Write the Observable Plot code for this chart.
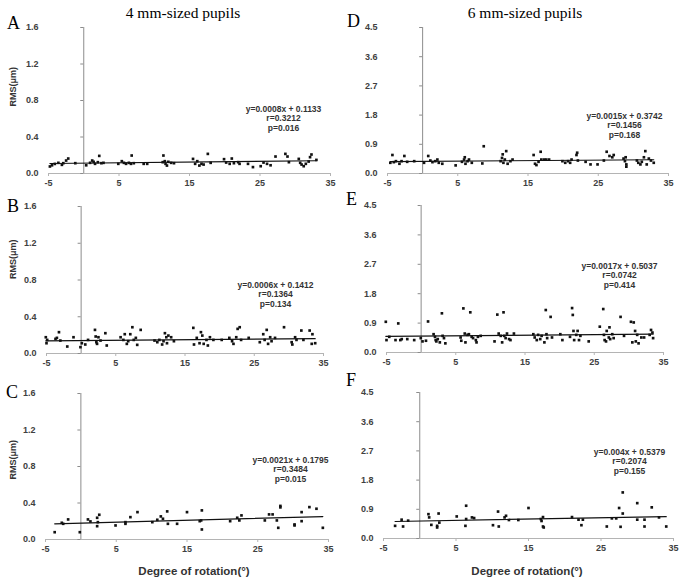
<!DOCTYPE html>
<html>
<head>
<meta charset="utf-8">
<script src="https://cdn.jsdelivr.net/npm/d3@7"></script>
<script src="https://cdn.jsdelivr.net/npm/@observablehq/plot@0.6"></script>
<style>
  html, body { margin: 0; padding: 0; background: #fff; }
  #chart { position: relative; width: 680px; height: 582px; overflow: hidden; }
  #chart > svg.panel { position: absolute; }
  #overlay { position: absolute; left: 0; top: 0; pointer-events: none; }
</style>
</head>
<body>
<div id="chart"></div>
<script>
// ---------- DATA ----------
const panelLetters = ["A", "B", "C", "D", "E", "F"];
const columnTitles = ["4 mm-sized pupils", "6 mm-sized pupils"];
const xAxisTitle = "Degree of rotation(°)";
const yAxisTitle = "RMS(μm)";
const xTicks = [-5, 5, 15, 25, 35];
const yTicks4mm = [0, 0.4, 0.8, 1.2, 1.6];
const yTicks6mm = [0, 0.9, 1.8, 2.7, 3.6, 4.5];

const slopes = [0.0008, 0.0006, 0.0021, 0.0015, 0.0017, 0.004];
const intercepts = [0.1133, 0.1412, 0.1795, 0.3742, 0.5037, 0.5379];
const equationLabels = ["y=0.0008x + 0.1133", "y=0.0006x + 0.1412", "y=0.0021x + 0.1795",
                        "y=0.0015x + 0.3742", "y=0.0017x + 0.5037", "y=0.004x + 0.5379"];
const rLabels = ["r=0.3212", "r=0.1364", "r=0.3484", "r=0.1456", "r=0.0742", "r=0.2074"];
const pLabels = ["p=0.016", "p=0.134", "p=0.015", "p=0.168", "p=0.414", "p=0.155"];

const pointsA = [[-4.8,0.077],[-4.5,0.09],[-4.1,0.105],[-3.6,0.117],[-3.1,0.095],[-2.9,0.113],[-2.5,0.142],[-2.2,0.164],[-1.2,0.113],[0.35,0.09],[0.9,0.117],[1.2,0.142],[1.4,0.128],[1.6,0.106],[2.0,0.124],[2.2,0.193],[2.5,0.113],[2.8,0.117],[4.9,0.106],[5.4,0.135],[5.7,0.117],[6.0,0.106],[6.4,0.117],[6.7,0.106],[6.8,0.197],[7.1,0.113],[8.5,0.106],[9.0,0.106],[11.2,0.124],[11.3,0.197],[11.5,0.135],[11.6,0.106],[11.8,0.087],[12.0,0.128],[12.4,0.117],[12.8,0.113],[15.5,0.16],[15.8,0.106],[16.1,0.135],[16.4,0.087],[16.7,0.106],[17.0,0.098],[17.6,0.215],[18.0,0.117],[19.9,0.157],[20.2,0.12],[20.7,0.106],[21.0,0.164],[21.3,0.113],[21.9,0.124],[22.1,0.106],[23.3,0.106],[24.0,0.07],[25.1,0.08],[25.5,0.12],[26.0,0.106],[26.5,0.09],[27.2,0.186],[28.6,0.215],[28.9,0.186],[29.1,0.124],[30.5,0.16],[30.7,0.117],[30.9,0.098],[31.2,0.08],[31.5,0.106],[31.9,0.131],[32.1,0.179],[32.3,0.208],[33.0,0.149]];

const pointsB = [[-5.1,0.177],[-5.0,0.112],[-4.9,0.148],[-3.7,0.159],[-3.5,0.17],[-3.2,0.232],[-3.0,0.141],[-2.0,0.076],[-1.1,0.177],[-0.1,0.069],[0.1,0.112],[0.6,0.098],[1.0,0.148],[2.0,0.257],[2.1,0.185],[2.2,0.123],[2.3,0.105],[2.5,0.177],[2.8,0.141],[3.5,0.221],[3.7,0.087],[5.7,0.177],[6.1,0.148],[6.3,0.21],[6.6,0.105],[6.8,0.134],[7.1,0.21],[7.4,0.286],[7.6,0.148],[7.9,0.17],[8.1,0.094],[8.6,0.257],[10.6,0.141],[11.0,0.123],[11.3,0.148],[11.7,0.098],[11.9,0.134],[12.1,0.221],[12.3,0.177],[12.4,0.112],[12.6,0.195],[13.0,0.177],[13.4,0.134],[16.2,0.279],[16.3,0.098],[16.7,0.17],[17.1,0.112],[17.3,0.232],[17.5,0.195],[17.7,0.105],[18.1,0.148],[18.3,0.087],[18.6,0.177],[19.1,0.148],[20.3,0.148],[21.4,0.17],[21.8,0.134],[22.0,0.105],[22.4,0.177],[22.6,0.268],[22.9,0.286],[23.1,0.148],[24.2,0.17],[25.8,0.123],[26.3,0.21],[26.5,0.148],[26.8,0.257],[27.0,0.105],[27.3,0.177],[27.5,0.134],[28.0,0.17],[29.3,0.286],[30.4,0.123],[30.5,0.098],[30.9,0.177],[31.1,0.148],[31.8,0.25],[32.1,0.148],[33.0,0.25],[33.3,0.105],[33.4,0.21],[33.8,0.112]];

const pointsC = [[-3.7,0.08],[-2.7,0.183],[-2.5,0.172],[-1.8,0.22],[-0.15,0.08],[1.0,0.22],[1.35,0.198],[2.3,0.238],[2.4,0.19],[2.3,0.146],[2.6,0.271],[4.9,0.154],[6.3,0.172],[6.3,0.19],[7.0,0.245],[8.0,0.3],[10.1,0.19],[10.8,0.216],[11.3,0.253],[11.6,0.227],[12.2,0.308],[12.3,0.172],[13.6,0.172],[15.0,0.3],[16.8,0.201],[17.0,0.209],[17.1,0.319],[17.1,0.11],[21.1,0.201],[22.1,0.238],[22.4,0.209],[22.7,0.264],[26.0,0.209],[26.6,0.275],[27.1,0.275],[27.7,0.209],[27.9,0.128],[28.2,0.352],[28.2,0.368],[30.2,0.165],[30.2,0.154],[31.2,0.3],[31.2,0.201],[32.3,0.355],[33.3,0.337],[34.2,0.128]];

const pointsD = [[-4.6,0.33],[-4.3,0.57],[-4.1,0.35],[-3.8,0.38],[-3.3,0.30],[-3.0,0.38],[-2.6,0.54],[-2.2,0.36],[-1.2,0.38],[0.2,0.33],[0.8,0.54],[1.1,0.40],[1.4,0.35],[1.8,0.38],[2.1,0.43],[2.3,0.33],[2.8,0.30],[4.7,0.25],[5.6,0.36],[5.9,0.43],[6.0,0.50],[6.1,0.30],[6.4,0.38],[6.6,0.43],[7.0,0.33],[8.5,0.31],[8.7,0.84],[11.1,0.38],[11.3,0.48],[11.4,0.59],[11.5,0.33],[11.7,0.43],[11.9,0.69],[12.1,0.30],[12.5,0.38],[12.8,0.43],[15.8,0.57],[16.0,0.30],[16.2,0.26],[16.5,0.36],[16.8,0.67],[16.9,0.43],[17.3,0.43],[17.6,0.43],[18.0,0.43],[19.9,0.38],[20.3,0.33],[20.7,0.38],[21.0,0.33],[21.2,0.43],[21.9,0.57],[22.0,0.64],[22.1,0.40],[23.2,0.36],[23.9,0.28],[24.9,0.28],[25.8,0.40],[26.2,0.67],[26.6,0.54],[27.0,0.50],[27.2,0.57],[28.6,0.46],[28.8,0.38],[28.9,0.50],[29.0,0.28],[29.0,0.21],[30.5,0.40],[30.7,0.33],[31.0,0.28],[31.2,0.36],[31.5,0.50],[31.7,0.69],[31.9,0.28],[32.2,0.46],[32.5,0.40],[32.9,0.33]];

const pointsE = [[-5.1,0.94],[-5.0,0.38],[-4.6,0.48],[-3.7,0.38],[-3.3,0.89],[-3.0,0.38],[-2.8,0.41],[-2.0,0.41],[-1.0,0.38],[-0.05,0.44],[0.2,0.34],[0.7,0.36],[1.0,0.95],[1.8,0.56],[2.0,0.48],[2.1,0.38],[2.2,0.34],[2.4,0.41],[2.7,0.31],[3.0,1.20],[3.1,0.51],[3.3,0.44],[3.5,0.28],[5.7,0.46],[5.8,0.36],[6.1,1.35],[6.3,0.58],[6.4,0.31],[6.7,0.54],[6.9,0.56],[7.1,1.23],[7.3,0.48],[7.5,0.44],[7.9,0.38],[8.0,0.31],[8.2,0.48],[8.6,0.51],[10.6,0.34],[11.0,1.16],[11.2,0.58],[11.5,0.51],[11.7,0.31],[11.9,1.23],[12.0,0.51],[12.2,0.44],[12.4,0.58],[12.7,0.41],[12.9,0.38],[13.4,0.58],[16.2,0.56],[16.4,0.46],[16.7,0.38],[16.9,0.54],[17.2,0.41],[17.4,0.51],[17.8,0.31],[18.0,1.30],[18.1,0.56],[18.2,0.44],[18.7,1.09],[18.9,0.46],[20.1,0.56],[20.4,0.38],[21.5,0.48],[21.8,1.36],[21.9,1.15],[22.0,0.66],[22.1,0.38],[22.4,0.54],[22.6,0.66],[22.8,0.38],[23.0,0.51],[24.2,0.34],[25.8,0.79],[26.3,1.33],[26.4,0.54],[26.5,0.38],[26.7,0.34],[26.8,0.66],[27.1,0.46],[27.2,0.77],[27.3,0.41],[27.6,0.56],[27.8,0.44],[28.8,1.09],[29.3,0.51],[30.3,0.94],[30.5,0.31],[30.7,0.92],[30.9,0.66],[31.0,0.34],[31.2,0.54],[31.4,0.28],[31.8,0.46],[32.2,0.46],[33.0,0.54],[33.2,0.69],[33.4,0.61],[33.5,0.44]];

const pointsF = [[-3.4,0.39],[-2.5,0.58],[-2.3,0.37],[-1.6,0.55],[1.2,0.75],[1.3,0.65],[1.6,0.42],[2.4,0.39],[2.4,0.34],[2.6,0.77],[2.7,0.49],[5.1,0.68],[6.3,0.39],[6.4,1.01],[6.4,0.60],[7.2,0.65],[7.5,0.63],[10.1,0.41],[10.8,0.83],[10.9,0.37],[11.7,0.65],[11.9,0.70],[12.3,0.57],[13.6,0.57],[15.0,0.94],[16.7,0.60],[16.8,0.54],[17.0,0.66],[17.0,0.37],[17.1,0.34],[21.0,0.66],[21.9,0.58],[22.3,0.41],[22.5,0.58],[25.8,0.37],[26.5,0.62],[27.1,0.62],[27.5,0.94],[27.7,0.36],[28.0,1.42],[28.0,0.77],[30.0,1.09],[30.0,0.58],[31.0,0.58],[31.0,0.37],[32.0,0.96],[33.0,0.65],[34.0,0.37]];

const allPoints = [pointsA, pointsB, pointsC, pointsD, pointsE, pointsF];

// ---------- LAYOUT ----------
const layout = [
  {left: 0,   top: 0,   h: 190, ml: 48, mr: 10, mt: 27, mb: 17, ticks: yTicks4mm, ann: [-47, 78], rms: [-35, 6]},
  {left: 0,   top: 190, h: 180, ml: 46, mr: 17, mt: 16, mb: 17, ticks: yTicks4mm, ann: [-48, 75], rms: [-33, -1]},
  {left: 0,   top: 370, h: 212, ml: 45, mr: 12, mt: 23, mb: 43, ticks: yTicks4mm, ann: [-38, 63], rms: [-32, 13]},
  {left: 340, top: 0,   h: 190, ml: 47, mr: 12, mt: 27, mb: 17, ticks: yTicks6mm, ann: [-44, 85]},
  {left: 340, top: 190, h: 180, ml: 46, mr: 17, mt: 15, mb: 18, ticks: yTicks6mm, ann: [-44, 57]},
  {left: 340, top: 370, h: 212, ml: 43, mr: 7,  mt: 22, mb: 44, ticks: yTicks6mm, ann: [-44, 56]}
];

const sans = "'Liberation Sans', Arial, sans-serif";
const serif = "'Liberation Serif', 'Times New Roman', serif";
const chart = document.getElementById("chart");

layout.forEach((cfg, i) => {
  const pts = allPoints[i];
  const xs = pts.map(d => d[0]);
  const xmin = d3.min(xs), xmax = d3.max(xs);
  const fit = [xmin, xmax].map(x => ({x, y: slopes[i] * x + intercepts[i]}));
  const yMax = d3.max(cfg.ticks);
  const pxPerUnit = (340 - cfg.ml - cfg.mr) / 40;
  const tickLen = 3 / pxPerUnit;
  const marks = [
    Plot.ruleY([0], {stroke: "#b4b4b4", strokeWidth: 1}),
    Plot.axisX(xTicks, {tickSize: 3, tickPadding: 3, stroke: "#b4b4b4", fill: "#404040",
      fontSize: 9, fontWeight: "bold", label: null, tickFormat: d => String(d)}),
    Plot.axisY(cfg.ticks, {tickSize: 0, tickPadding: 10, fill: "#404040",
      fontSize: 9, fontWeight: "bold", label: null, tickFormat: d3.format(".1f")}),
    Plot.ruleX([0], {stroke: "#8c8c8c", strokeWidth: 1}),
    Plot.ruleY(cfg.ticks, {x1: -tickLen, x2: 0, stroke: "#8c8c8c"}),
    Plot.line(fit, {x: "x", y: "y", stroke: "#111", strokeWidth: 1.2}),
    Plot.dot(pts, {x: d => d[0], y: d => d[1], r: 1.5, fill: "#111", stroke: "none", symbol: "square"}),
    Plot.text([[equationLabels[i], rLabels[i], pLabels[i]].join("\n")], {
      frameAnchor: "top-right", textAnchor: "middle", lineAnchor: "top",
      dx: cfg.ann[0], dy: cfg.ann[1], fontSize: 8.5, fontWeight: "bold", fill: "#333", lineHeight: 1.1
    })
  ];
  if (cfg.rms) {
    marks.push(Plot.text([yAxisTitle], {frameAnchor: "left", rotate: -90, dx: cfg.rms[0], dy: cfg.rms[1],
      fontSize: 9, fontWeight: "bold", fill: "#333"}));
  }
  const svg = Plot.plot({
    width: 340, height: cfg.h,
    marginLeft: cfg.ml, marginRight: cfg.mr, marginTop: cfg.mt, marginBottom: cfg.mb,
    x: {domain: [-5, 35]},
    y: {domain: [0, yMax]},
    style: {fontFamily: sans, background: "transparent", overflow: "visible"},
    marks
  });
  svg.classList.add("panel");
  svg.style.left = cfg.left + "px";
  svg.style.top = cfg.top + "px";
  chart.appendChild(svg);
});

// ---------- OVERLAY TEXT (titles, panel letters, axis titles) ----------
const ns = "http://www.w3.org/2000/svg";
const overlay = document.createElementNS(ns, "svg");
overlay.setAttribute("id", "overlay");
overlay.setAttribute("width", 680);
overlay.setAttribute("height", 582);
function addText(str, x, y, opts) {
  const t = document.createElementNS(ns, "text");
  t.setAttribute("x", x); t.setAttribute("y", y);
  t.setAttribute("font-family", opts.family);
  t.setAttribute("font-size", opts.size);
  if (opts.weight) t.setAttribute("font-weight", opts.weight);
  t.setAttribute("fill", opts.fill || "#000");
  t.setAttribute("text-anchor", opts.anchor || "start");
  t.textContent = str;
  overlay.appendChild(t);
}
const titlePos = [[183, 18], [525, 18]];
columnTitles.forEach((s, i) => addText(s, titlePos[i][0], titlePos[i][1], {family: serif, size: 15.5, anchor: "middle"}));
const letterPos = [[7, 29], [7, 212], [6, 398], [347, 27], [346, 205], [346, 386]];
panelLetters.forEach((s, i) => addText(s, letterPos[i][0], letterPos[i][1], {family: serif, size: 18}));
[[194, 575], [527, 575]].forEach(p => addText(xAxisTitle, p[0], p[1], {family: sans, size: 11.5, weight: "bold", fill: "#333", anchor: "middle"}));
chart.appendChild(overlay);
</script>
</body>
</html>
